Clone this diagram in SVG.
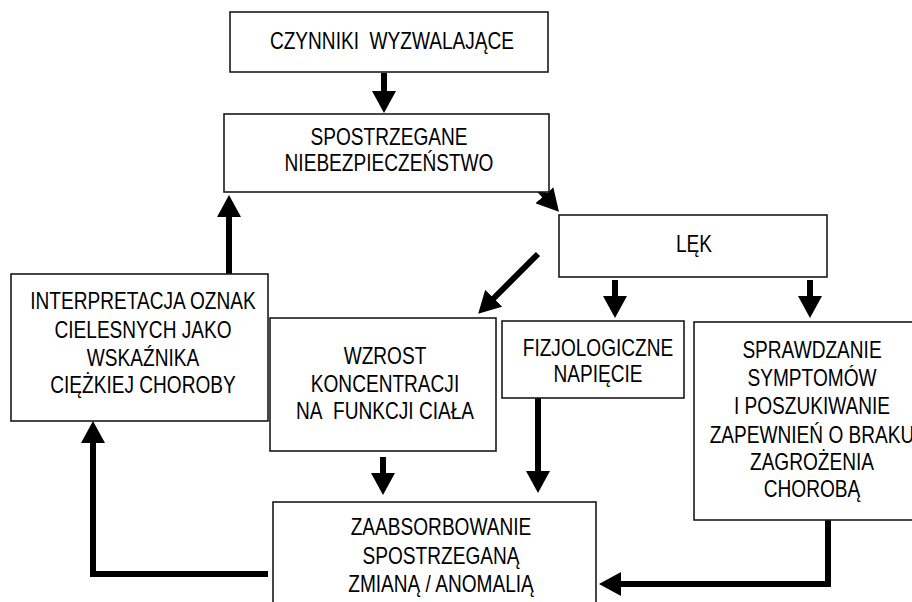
<svg xmlns="http://www.w3.org/2000/svg" width="912" height="602" viewBox="0 0 912 602">
<style>
.box{fill:#fff;stroke:#1a1a1a;stroke-width:1.6}
.t{font-family:"Liberation Sans",Arial,sans-serif;font-size:23px;fill:#000;text-anchor:middle}
.c{fill:none;stroke:#000;stroke-width:6;marker-end:url(#ah)}
</style>
<defs>
<marker id="ah" markerUnits="userSpaceOnUse" viewBox="0 0 22 24" markerWidth="22" markerHeight="24" refX="1" refY="12" orient="auto">
<path d="M0,0 L22,12 L0,24 z" fill="#000"/>
</marker>
</defs>
<rect width="912" height="602" fill="#fff"/>
<g id="connectors">
<line class="c" x1="384" y1="73" x2="384" y2="92"/>
<line class="c" x1="537" y1="187" x2="545" y2="196"/>
<line class="c" x1="538" y1="254" x2="493" y2="299"/>
<line class="c" x1="615" y1="280" x2="615" y2="297"/>
<line class="c" x1="810" y1="280" x2="810" y2="297"/>
<line class="c" x1="229" y1="274" x2="229" y2="216"/>
<line class="c" x1="383" y1="457" x2="383" y2="474"/>
<line class="c" x1="538" y1="398" x2="538" y2="472"/>
<polyline class="c" points="268,574 93,574 93,442"/>
<polyline class="c" points="828,520 828,584 620,584"/>
</g>
<g id="n1">
<rect class="box" x="230" y="12" width="318" height="60"/>
<g transform="translate(392,0) scale(0.83,1)"><text class="t" x="0" y="49">CZYNNIKI&#160; WYZWALAJĄCE</text></g>
</g>
<g id="n2">
<rect class="box" x="224" y="114" width="325" height="78"/>
<g transform="translate(389,0) scale(0.83,1)"><text class="t" x="0" y="145">SPOSTRZEGANE</text><text class="t" x="0" y="171">NIEBEZPIECZEŃSTWO</text></g>
</g>
<g id="n3">
<rect class="box" x="559" y="215" width="268" height="62"/>
<g transform="translate(694,0) scale(0.83,1)"><text class="t" x="0" y="252">LĘK</text></g>
</g>
<g id="n4">
<rect class="box" x="11" y="274" width="257" height="147"/>
<g transform="translate(143,0) scale(0.83,1)"><text class="t" x="0" y="309">INTERPRETACJA OZNAK</text><text class="t" x="0" y="338">CIELESNYCH JAKO</text><text class="t" x="0" y="366">WSKAŹNIKA</text><text class="t" x="0" y="393">CIĘŻKIEJ CHOROBY</text></g>
</g>
<g id="n5">
<rect class="box" x="270" y="318" width="226" height="133"/>
<g transform="translate(385,0) scale(0.83,1)"><text class="t" x="0" y="364">WZROST</text><text class="t" x="0" y="392">KONCENTRACJI</text><text class="t" x="0" y="419">NA&#160; FUNKCJI CIAŁA</text></g>
</g>
<g id="n6">
<rect class="box" x="502" y="321" width="182" height="77"/>
<g transform="translate(598,0) scale(0.83,1)"><text class="t" x="0" y="356">FIZJOLOGICZNE</text><text class="t" x="0" y="382">NAPIĘCIE</text></g>
</g>
<g id="n7">
<rect class="box" x="694" y="322" width="250" height="198"/>
<g transform="translate(812,0) scale(0.83,1)"><text class="t" x="0" y="358">SPRAWDZANIE</text><text class="t" x="0" y="386">SYMPTOMÓW</text><text class="t" x="0" y="414">I POSZUKIWANIE</text><text class="t" x="0" y="443">ZAPEWNIEŃ O BRAKU</text><text class="t" x="0" y="470">ZAGROŻENIA</text><text class="t" x="0" y="497">CHOROBĄ</text></g>
</g>
<g id="n8">
<rect class="box" x="273" y="502" width="323" height="120"/>
<g transform="translate(441,0) scale(0.83,1)"><text class="t" x="0" y="535">ZAABSORBOWANIE</text><text class="t" x="0" y="564">SPOSTRZEGANĄ</text><text class="t" x="0" y="592">ZMIANĄ / ANOMALIĄ</text></g>
</g>
</svg>
